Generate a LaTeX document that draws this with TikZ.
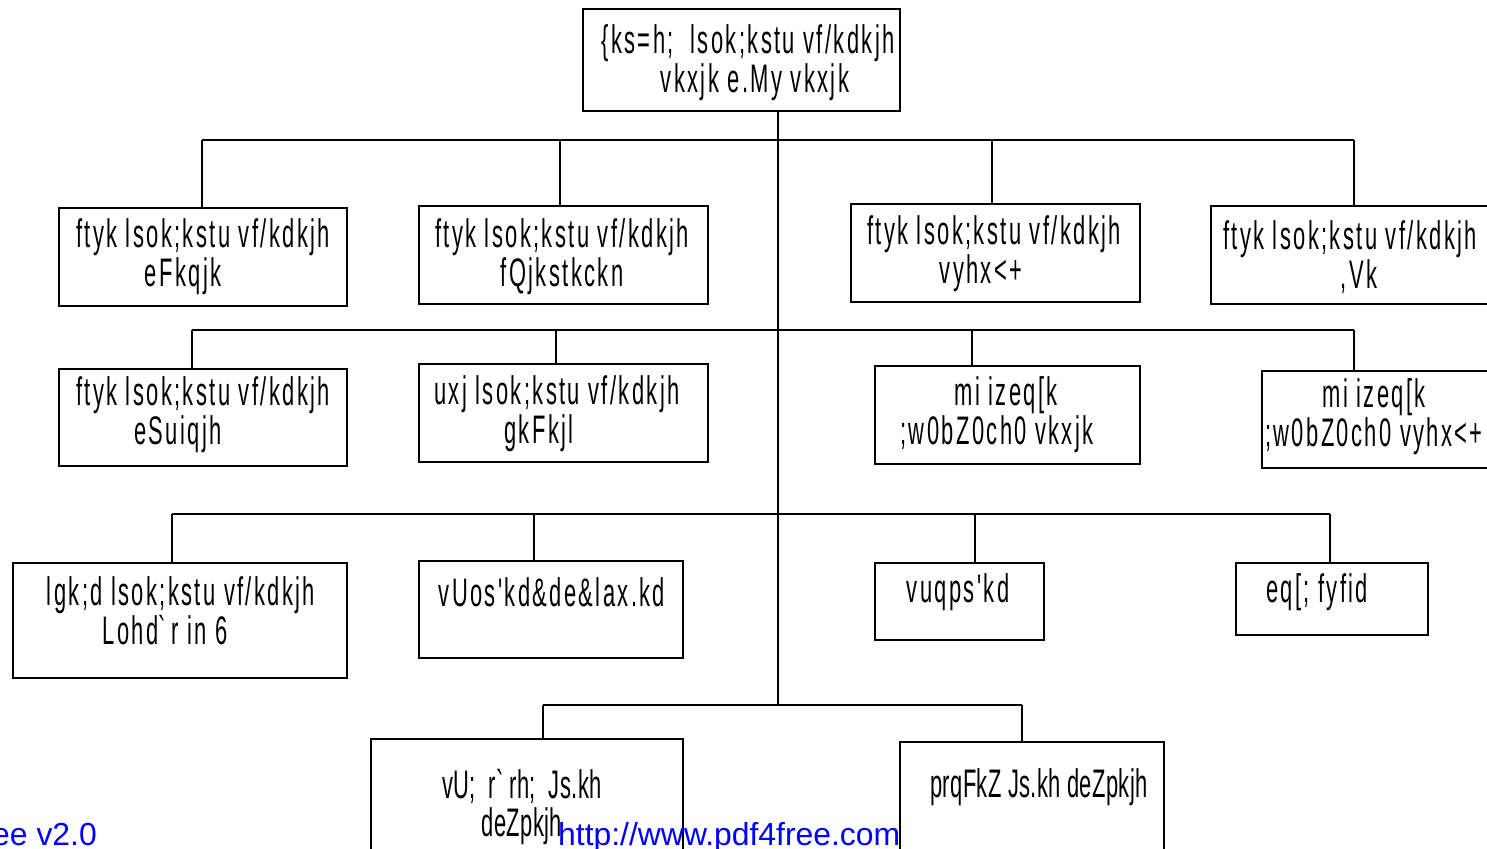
\documentclass[tikz,border=0pt]{standalone}
\usepackage{fontspec}
\newfontfamily\kd[FakeStretch=0.55,LetterSpace=6]{Liberation Sans}
\newfontfamily\kdt[FakeStretch=0.55,LetterSpace=1]{Liberation Sans}
\newfontfamily\wm{Liberation Sans}
\begin{document}
\begin{tikzpicture}[x=1bp,y=-1bp,
  box/.style={draw, line width=1.5bp, inner sep=0, anchor=north west},
  txt/.style={font=\kd\fontsize{40}{39}\selectfont, align=center, inner sep=0},
  txtt/.style={font=\kdt\fontsize{40}{39}\selectfont, align=center, inner sep=0},
  wmark/.style={font=\wm\fontsize{32}{34}\selectfont, text=blue, inner sep=0},
  conn/.style={line width=1.5bp}]
\useasboundingbox (0,0) rectangle (1487,848);
% boxes
\node[box, minimum width=317bp, minimum height=102bp] (top) at (582,8) {};
\node[box, minimum width=288bp, minimum height=98bp] (A) at (58,207) {};
\node[box, minimum width=289bp, minimum height=98bp] (B) at (418,205) {};
\node[box, minimum width=289bp, minimum height=98bp] (C) at (850,203) {};
\node[box, minimum width=300bp, minimum height=98bp] (D) at (1210,205) {};
\node[box, minimum width=288bp, minimum height=97bp] (E) at (58,368) {};
\node[box, minimum width=289bp, minimum height=98bp] (F) at (418,363) {};
\node[box, minimum width=265bp, minimum height=98bp] (G) at (874,365) {};
\node[box, minimum width=250bp, minimum height=97bp] (H) at (1261,370) {};
\node[box, minimum width=334bp, minimum height=115bp] (I) at (12,562) {};
\node[box, minimum width=264bp, minimum height=97bp] (J) at (418,560) {};
\node[box, minimum width=169bp, minimum height=77bp] (K) at (874,562) {};
\node[box, minimum width=192bp, minimum height=72bp] (L) at (1235,562) {};
\node[box, minimum width=312bp, minimum height=130bp] (M) at (370,738) {};
\node[box, minimum width=264bp, minimum height=130bp] (N) at (899,741) {};
% texts
\node[txt] (ttop) at (748,63) {\{ks=h;\ \ lsok;kstu vf/kdkjh\\ \hspace*{14bp}vkxjk e.My vkxjk};
\node[txt] (tA) at (203,257) {ftyk lsok;kstu vf/kdkjh\\ eFkqjk\hspace*{40bp}};
\node[txt] (tB) at (562,257) {ftyk lsok;kstu vf/kdkjh\\ fQjkstkckn};
\node[txt] (tC) at (994,254) {ftyk lsok;kstu vf/kdkjh\\ vyhx<+\hspace*{26bp}};
\node[txt] (tD) at (1350,257) {ftyk lsok;kstu vf/kdkjh\\ \hspace*{18bp},Vk};
\node[txt] (tE) at (203,415) {ftyk lsok;kstu vf/kdkjh\\ eSuiqjh\hspace*{50bp}};
\node[txt] (tF) at (557,414) {uxj lsok;kstu vf/kdkjh\\ gkFkjl\hspace*{36bp}};
\node[txt] (tG) at (997,415) {\hspace*{18bp}mi izeq[k\\ ;w0bZ0ch0 vkxjk};
\node[txt] (tH) at (1374,417) {mi izeq[k\\ ;w0bZ0ch0 vyhx<+};
\node[txt] (tI) at (181,611) {lgk;d lsok;kstu vf/kdkjh\\ Lohd\textasciigrave r in 6\hspace*{32bp}};
\node[txt] (tJ) at (552,592) {vUos'kd\&de\&lax.kd};
\node[txt] (tK) at (958,592) {vuqps'kd};
\node[txt] (tL) at (1317,592) {eq[; fyfid};
\node[txtt] (tM) at (522,807) {vU;\ \ r\textasciigrave rh;\ \ Js.kh\\ deZpkjh};
\node[txtt] (tN) at (1039,787) {prqFkZ Js.kh deZpkjh};
% connector coordinates
\coordinate (j0) at (778,705);
\coordinate (h1l) at (202,140); \coordinate (h1b) at (560,140);
\coordinate (h1c) at (992,140); \coordinate (h1r) at (1354,140);
\coordinate (h2l) at (192,330); \coordinate (h2b) at (556,330);
\coordinate (h2c) at (972,330); \coordinate (h2r) at (1354,330);
\coordinate (h3l) at (172,514); \coordinate (h3b) at (534,514);
\coordinate (h3c) at (975,514); \coordinate (h3r) at (1330,514);
\coordinate (h4l) at (543,705); \coordinate (h4r) at (1022,705);
% connectors
\draw[conn] (top.south -| j0) -- (j0);
\draw[conn] (h1l) -- (h1r);
\draw[conn] (h2l) -- (h2r);
\draw[conn] (h3l) -- (h3r);
\draw[conn] (h4l) -- (h4r);
\draw[conn] (h1l) -- (h1l |- A.north);
\draw[conn] (h1b) -- (h1b |- B.north);
\draw[conn] (h1c) -- (h1c |- C.north);
\draw[conn] (h1r) -- (h1r |- D.north);
\draw[conn] (h2l) -- (h2l |- E.north);
\draw[conn] (h2b) -- (h2b |- F.north);
\draw[conn] (h2c) -- (h2c |- G.north);
\draw[conn] (h2r) -- (h2r |- H.north);
\draw[conn] (h3l) -- (h3l |- I.north);
\draw[conn] (h3b) -- (h3b |- J.north);
\draw[conn] (h3c) -- (h3c |- K.north);
\draw[conn] (h3r) -- (h3r |- L.north);
\draw[conn] (h4l) -- (h4l |- M.north);
\draw[conn] (h4r) -- (h4r |- N.north);
% watermark
\node[wmark, anchor=base west] (w1) at (558,845) {http://www.pdf4free.com};
\node[wmark, anchor=base east] (w2) at (97,845) {ee v2.0};
\end{tikzpicture}
\end{document}
